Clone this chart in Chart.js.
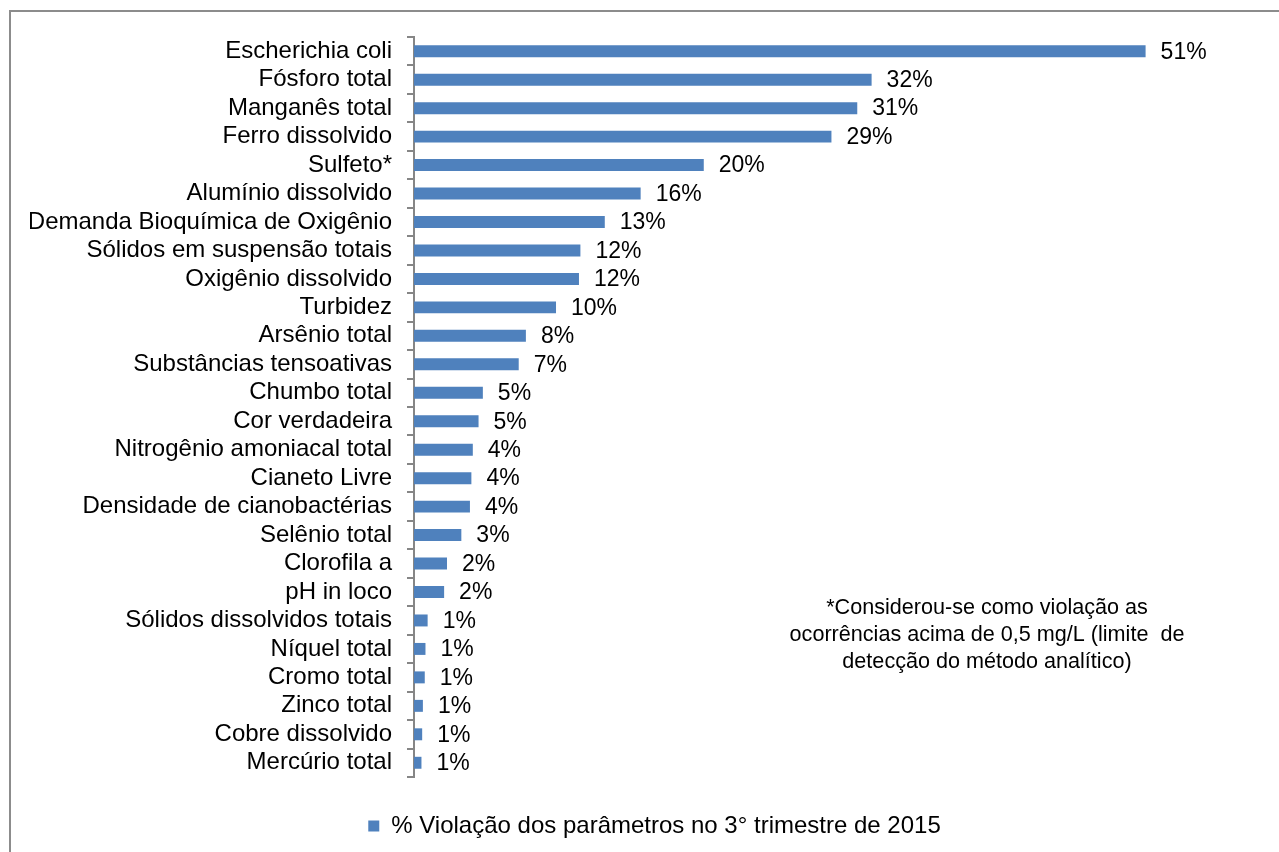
<!DOCTYPE html>
<html>
<head>
<meta charset="utf-8">
<script src="https://cdn.jsdelivr.net/npm/chart.js@4/dist/chart.umd.min.js"></script>
<style>
  html, body { margin: 0; padding: 0; background: #fff; overflow: hidden; }
  #frame { position: absolute; left: 9px; top: 10px; width: 1320px; height: 900px; border: 2px solid #8c8c8c; }
  #wrap { position: absolute; left: 0; top: 0; width: 1279px; height: 852px; }
</style>
</head>
<body>
<div id="frame"></div>
<div id="wrap"><canvas id="chart"></canvas></div>
<script>
  const categories = [
    'Escherichia coli', 'Fósforo total', 'Manganês total', 'Ferro dissolvido', 'Sulfeto*',
    'Alumínio dissolvido', 'Demanda Bioquímica de Oxigênio', 'Sólidos em suspensão totais',
    'Oxigênio dissolvido', 'Turbidez', 'Arsênio total', 'Substâncias tensoativas',
    'Chumbo total', 'Cor verdadeira', 'Nitrogênio amoniacal total', 'Cianeto Livre',
    'Densidade de cianobactérias', 'Selênio total', 'Clorofila a', 'pH in loco',
    'Sólidos dissolvidos totais', 'Níquel total', 'Cromo total', 'Zinco total',
    'Cobre dissolvido', 'Mercúrio total'
  ];
  const violacao = [
    51, 31.9, 30.9, 29.1, 20.2, 15.8, 13.3, 11.6, 11.5, 9.9, 7.8, 7.3, 4.8,
    4.5, 4.1, 4.0, 3.9, 3.3, 2.3, 2.1, 0.95, 0.8, 0.75, 0.62, 0.57, 0.52
  ];
  const seriesName = '% Violação dos parâmetros no 3° trimestre de 2015';
  const noteLines = [
    '*Considerou-se como violação as',
    'ocorrências acima de 0,5 mg/L (limite  de',
    'detecção do método analítico)'
  ];

  const FONT = "'Liberation Sans', Arial, sans-serif";

  // value labels at the end of each bar
  const valueLabels = {
    id: 'valueLabels',
    afterDatasetsDraw(chart) {
      const ctx = chart.ctx;
      const meta = chart.getDatasetMeta(0);
      ctx.save();
      ctx.font = '23px ' + FONT;
      ctx.fillStyle = '#000';
      ctx.textAlign = 'left';
      ctx.textBaseline = 'middle';
      meta.data.forEach((bar, i) => {
        ctx.fillText(Math.round(violacao[i]) + '%', bar.x + 15, bar.y + 1);
      });
      ctx.restore();
    }
  };

  // footnote text box
  const note = {
    id: 'note',
    afterDraw(chart) {
      const ctx = chart.ctx;
      ctx.save();
      ctx.font = '21.6px ' + FONT;
      ctx.fillStyle = '#000';
      ctx.textAlign = 'center';
      ctx.textBaseline = 'middle';
      noteLines.forEach((t, i) => ctx.fillText(t, 987, 608 + i * 27));
      ctx.restore();
    }
  };

  new Chart(document.getElementById('chart'), {
    type: 'bar',
    data: {
      labels: categories,
      datasets: [{
        label: seriesName,
        data: violacao,
        backgroundColor: '#4f81bd',
        categoryPercentage: 1,
        barPercentage: 0.42
      }]
    },
    options: {
      indexAxis: 'y',
      responsive: true,
      maintainAspectRatio: false,
      animation: false,
      layout: { padding: { left: 30, right: 0, top: 37, bottom: 4 } },
      scales: {
        x: { display: false, min: 0, max: 60.3 },
        y: {
          afterFit(s) { s.width = 384; },
          border: { display: true, color: '#868686', width: 2 },
          grid: { drawOnChartArea: false, tickLength: 7, color: '#868686', lineWidth: 2, offset: true },
          ticks: { color: '#000', padding: 15, autoSkip: false, font: { family: FONT, size: 24 } }
        }
      },
      plugins: {
        legend: {
          position: 'bottom',
          labels: {
            color: '#000',
            boxWidth: 11,
            boxHeight: 11,
            padding: 37,
            font: { family: FONT, size: 24 }
          }
        },
        tooltip: { enabled: false }
      }
    },
    plugins: [valueLabels, note]
  });
</script>
</body>
</html>
